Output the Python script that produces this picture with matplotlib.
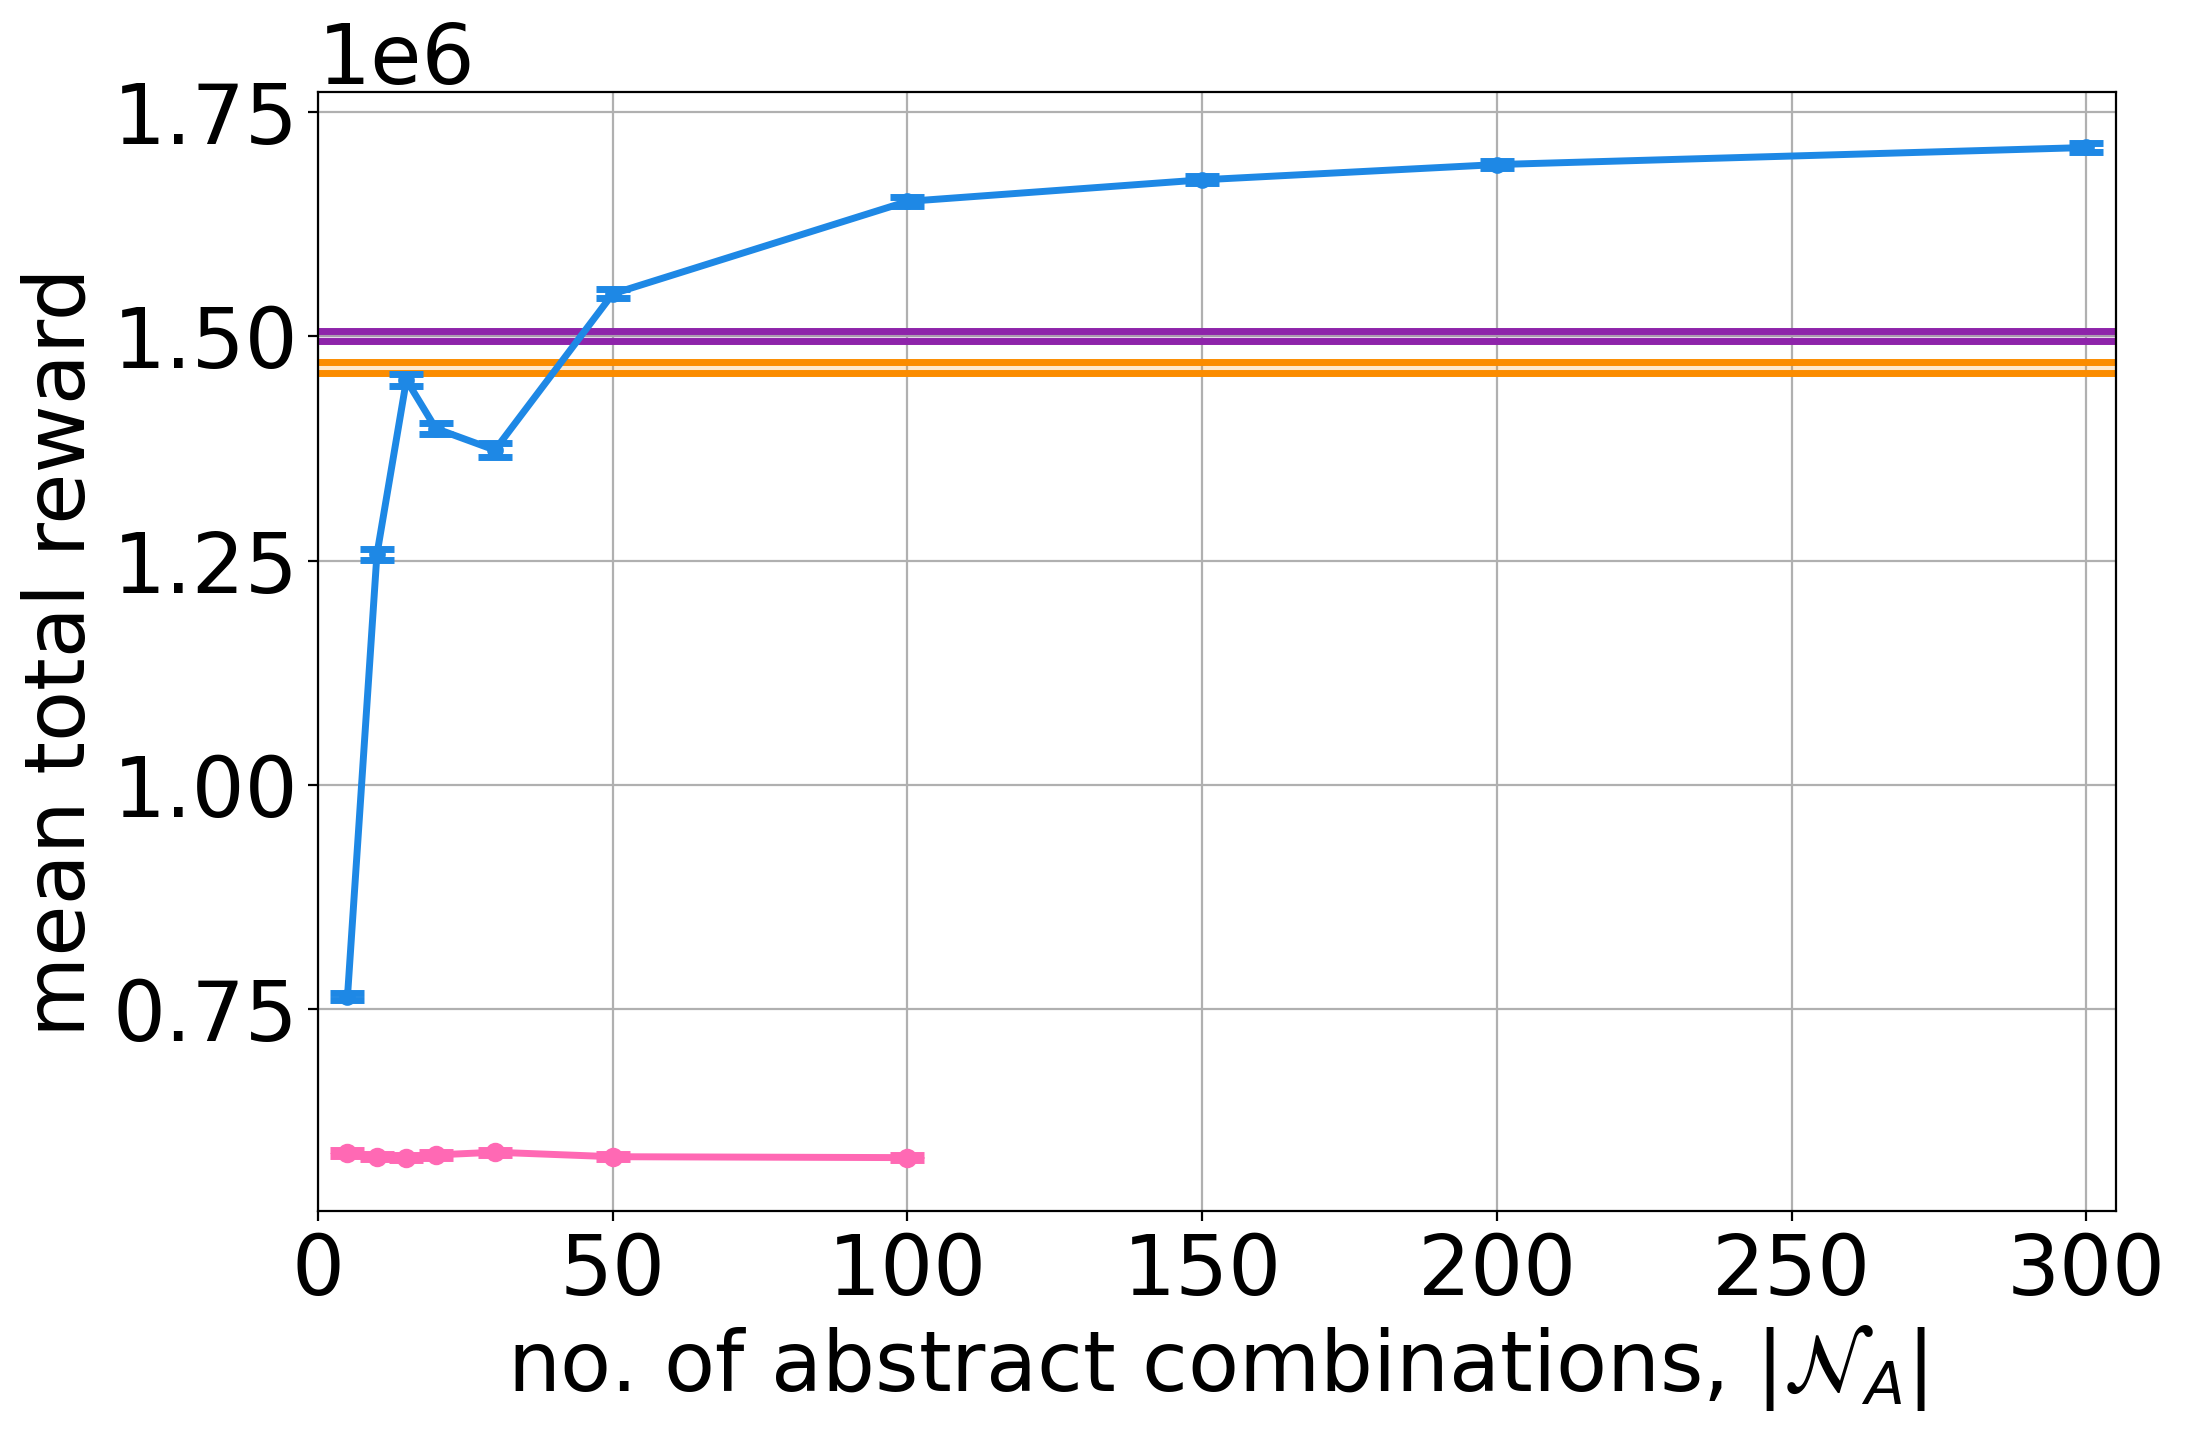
import numpy as np
import matplotlib.pyplot as plt

plt.rcParams['font.size'] = 30

# abstract combinations (x) and mean total reward
n_abstract = [5, 10, 15, 20, 30, 50, 100, 150, 200, 300]
reward_main = [0.764e6, 1.257e6, 1.451e6, 1.397e6, 1.373e6, 1.547e6, 1.650e6, 1.674e6, 1.691e6, 1.710e6]
reward_main_err = [0.004e6, 0.006e6, 0.007e6, 0.006e6, 0.008e6, 0.005e6, 0.005e6, 0.004e6, 0.004e6, 0.005e6]

n_abstract_b = [5, 10, 15, 20, 30, 50, 100]
reward_b = [0.590e6, 0.586e6, 0.585e6, 0.588e6, 0.591e6, 0.586e6, 0.585e6]
reward_b_err = [0.003e6, 0.003e6, 0.003e6, 0.003e6, 0.003e6, 0.003e6, 0.003e6]

# baseline bands (low, high)
band_purple = (1.4945e6, 1.5055e6)
band_orange = (1.459e6, 1.471e6)

fig, ax = plt.subplots(figsize=(10.935, 7.165))
fig.subplots_adjust(left=0.1454, right=0.9675, top=0.9357, bottom=0.1548)

xs = np.array([0, 305])
ax.fill_between(xs, band_purple[0], band_purple[1], color='#8E24AA', alpha=0.15, lw=0)
ax.axhline(band_purple[0], color='#8E24AA', lw=2.5)
ax.axhline(band_purple[1], color='#8E24AA', lw=2.5)
ax.fill_between(xs, band_orange[0], band_orange[1], color='#FB8C00', alpha=0.2, lw=0)
ax.axhline(band_orange[0], color='#FB8C00', lw=2.5)
ax.axhline(band_orange[1], color='#FB8C00', lw=2.5)

ax.errorbar(n_abstract, reward_main, yerr=reward_main_err, color='#1E88E5', marker='o',
            markersize=5, lw=2.5, capsize=6, capthick=2.5)
ax.errorbar(n_abstract_b, reward_b, yerr=reward_b_err, color='#FF69B4', marker='o',
            markersize=6, lw=2.5, capsize=6, capthick=2.5)

ax.set_xlim(0, 305)
ax.set_yticks([0.75e6, 1.0e6, 1.25e6, 1.5e6, 1.75e6])
ax.grid(True)
ax.set_axisbelow(True)
ax.set_xlabel(r'no. of abstract combinations, $|\mathcal{N}_A|$')
ax.set_ylabel('mean total reward')

plt.savefig('out.png', dpi=200)
